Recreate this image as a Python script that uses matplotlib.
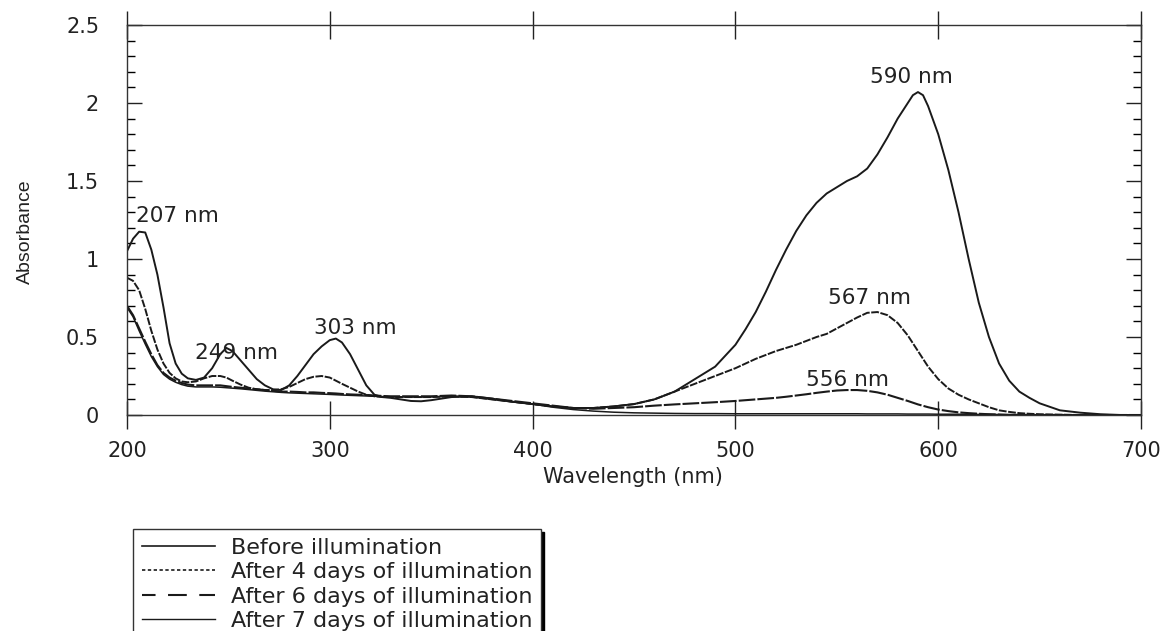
import matplotlib
matplotlib.use("Agg")
import matplotlib.pyplot as plt
from matplotlib.lines import Line2D
from matplotlib.ticker import MultipleLocator, FuncFormatter

plt.rcParams['font.family'] = ['DejaVu Sans']

wavelength = [200, 203, 206, 209, 212, 215, 218, 221, 224, 227, 230, 234, 238, 242, 246, 249,
              252, 256, 260, 264, 268, 272, 276, 280, 284, 288, 292, 296, 300, 303, 306, 310,
              314, 318, 322, 326, 330, 335, 340, 345, 350, 360, 370, 380, 390, 400, 410, 420,
              430, 440, 450, 460, 470, 480, 490, 500, 505, 510, 515, 520, 525, 530, 535, 540,
              545, 550, 555, 560, 565, 570, 575, 580, 585, 587.5, 590, 592.5, 595, 600, 605, 610,
              615, 620, 625, 630, 635, 640, 645, 650, 660, 670, 680, 690, 700]

before = [1.05, 1.13, 1.175, 1.17, 1.06, 0.90, 0.69, 0.46, 0.33, 0.265, 0.235, 0.225, 0.24, 0.30, 0.39, 0.43,
          0.41, 0.35, 0.29, 0.23, 0.19, 0.165, 0.16, 0.19, 0.25, 0.32, 0.39, 0.44, 0.48, 0.49, 0.465, 0.39,
          0.29, 0.19, 0.13, 0.115, 0.11, 0.10, 0.09, 0.088, 0.095, 0.115, 0.12, 0.105, 0.085, 0.07, 0.055, 0.045,
          0.045, 0.055, 0.07, 0.10, 0.15, 0.23, 0.31, 0.45, 0.55, 0.66, 0.79, 0.93, 1.06, 1.18, 1.28, 1.36,
          1.42, 1.46, 1.50, 1.53, 1.58, 1.67, 1.78, 1.90, 2.00, 2.05, 2.07, 2.05, 1.98, 1.80, 1.57, 1.30,
          1.00, 0.72, 0.50, 0.33, 0.22, 0.15, 0.11, 0.075, 0.03, 0.015, 0.005, 0.0, 0.0]

days4 = [0.88, 0.86, 0.80, 0.68, 0.54, 0.42, 0.33, 0.27, 0.235, 0.215, 0.21, 0.215, 0.235, 0.25, 0.25, 0.24,
         0.22, 0.195, 0.175, 0.165, 0.16, 0.16, 0.165, 0.18, 0.205, 0.23, 0.245, 0.25, 0.24, 0.22, 0.20, 0.175,
         0.15, 0.13, 0.12, 0.115, 0.115, 0.115, 0.115, 0.115, 0.115, 0.12, 0.115, 0.10, 0.085, 0.07, 0.055, 0.045,
         0.045, 0.055, 0.07, 0.10, 0.15, 0.20, 0.25, 0.30, 0.33, 0.36, 0.385, 0.41, 0.43, 0.45, 0.475, 0.50,
         0.52, 0.555, 0.59, 0.625, 0.655, 0.66, 0.64, 0.59, 0.51, 0.46, 0.41, 0.36, 0.31, 0.23, 0.17, 0.13,
         0.10, 0.075, 0.05, 0.03, 0.02, 0.012, 0.008, 0.005, 0.002, 0.0, 0.0, 0.0, 0.0]

days6 = [0.70, 0.64, 0.555, 0.47, 0.39, 0.32, 0.27, 0.24, 0.22, 0.205, 0.195, 0.19, 0.19, 0.19, 0.19, 0.185,
         0.18, 0.175, 0.17, 0.165, 0.16, 0.155, 0.15, 0.15, 0.148, 0.145, 0.145, 0.142, 0.14, 0.138, 0.135, 0.132,
         0.13, 0.128, 0.125, 0.122, 0.12, 0.12, 0.12, 0.12, 0.12, 0.125, 0.12, 0.105, 0.09, 0.075, 0.06, 0.045,
         0.04, 0.045, 0.05, 0.06, 0.068, 0.075, 0.082, 0.09, 0.095, 0.10, 0.105, 0.11, 0.117, 0.125, 0.133, 0.142,
         0.15, 0.157, 0.16, 0.16, 0.155, 0.145, 0.13, 0.11, 0.09, 0.079, 0.068, 0.059, 0.05, 0.035, 0.025, 0.017,
         0.012, 0.008, 0.005, 0.003, 0.0, 0.0, 0.0, 0.0, 0.0, 0.0, 0.0, 0.0, 0.0]

days7 = [0.69, 0.63, 0.54, 0.455, 0.375, 0.31, 0.26, 0.23, 0.21, 0.195, 0.185, 0.18, 0.18, 0.18, 0.178, 0.175,
         0.172, 0.168, 0.163, 0.158, 0.153, 0.149, 0.145, 0.142, 0.14, 0.138, 0.136, 0.134, 0.132, 0.13, 0.128, 0.126,
         0.124, 0.122, 0.12, 0.118, 0.117, 0.116, 0.115, 0.115, 0.116, 0.12, 0.115, 0.10, 0.085, 0.07, 0.05, 0.035,
         0.025, 0.018, 0.014, 0.012, 0.01, 0.009, 0.009, 0.008, 0.008, 0.008, 0.008, 0.008, 0.008, 0.008, 0.008, 0.008,
         0.008, 0.008, 0.008, 0.008, 0.007, 0.007, 0.007, 0.007, 0.006, 0.006, 0.006, 0.006, 0.006, 0.005, 0.005, 0.005,
         0.004, 0.004, 0.004, 0.003, 0.003, 0.003, 0.002, 0.002, 0.002, 0.001, 0.001, 0.0, 0.0]

labels = ["Before illumination", "After 4 days of illumination",
          "After 6 days of illumination", "After 7 days of illumination"]

peak_text = ["207 nm", "249 nm", "303 nm", "590 nm", "567 nm", "556 nm"]
peak_x = [225, 254, 312.5, 587, 566, 555.5]
peak_y = [1.276, 0.397, 0.558, 2.167, 0.75, 0.224]

x_ticks = [200, 300, 400, 500, 600, 700]
y_ticks = [0, 0.5, 1, 1.5, 2, 2.5]

fig = plt.figure(figsize=(11.66, 6.31), dpi=100)
ax = fig.add_axes([0.1089, 0.3423, 0.8697, 0.6181])

lc = '#1a1a1a'
ax.plot(wavelength, before, color=lc, lw=1.4, ls='-')
ax.plot(wavelength, days4, color=lc, lw=1.4, ls=(0, (4, 0.8)))
ax.plot(wavelength, days6, color=lc, lw=1.5, ls=(0, (8, 1)))
ax.plot(wavelength, days7, color=lc, lw=1.1, ls='-')

fs = 15
for t, x, y in zip(peak_text, peak_x, peak_y):
    ax.text(x, y, t, ha='center', va='center', fontsize=15.5, color='#222222')

ax.set_xlim(200, 700)
ax.set_ylim(0, 2.5)
ax.set_xticks(x_ticks)
ax.set_yticks(y_ticks)
ax.yaxis.set_minor_locator(MultipleLocator(0.1))
ax.yaxis.set_major_formatter(FuncFormatter(lambda v, p: f"{v:g}"))

ax.tick_params(axis='x', which='major', direction='inout', length=20, width=1,
               top=True, bottom=True, labelsize=fs, pad=9, colors='#222222')
ax.tick_params(axis='y', which='major', direction='in', length=11, width=1,
               left=True, right=True, labelsize=fs, pad=20, colors='#222222')
ax.tick_params(axis='y', which='minor', direction='in', length=6, width=1,
               left=True, right=True)

for s in ax.spines.values():
    s.set_color('#333333')
    s.set_linewidth(1.0)

ax.set_xlabel("Wavelength (nm)", fontsize=fs, color='#222222')
ax.xaxis.set_label_coords(0.499, -0.134)
ax.set_ylabel("Absorbance", fontsize=14, color='#222222', family='Liberation Sans')
ax.yaxis.set_label_coords(-0.092, 0.47)

handles = [Line2D([], [], color=lc, lw=1.2, ls='-'),
           Line2D([], [], color=lc, lw=1.2, ls=(0, (2, 1.5))),
           Line2D([], [], color=lc, lw=1.5, ls=(2.5, (9, 6))),
           Line2D([], [], color=lc, lw=1.0, ls='-')]
leg = fig.legend(handles, labels, loc='upper left', bbox_to_anchor=(0.114, 0.162),
                 fontsize=16, frameon=True, fancybox=False, shadow={'color': 'black', 'alpha': 1},
                 handlelength=3.3, handletextpad=0.7, labelspacing=0.2, borderpad=0.4,
                 borderaxespad=0)
leg.get_frame().set_edgecolor('#333333')
leg.get_frame().set_linewidth(1.0)
for txt in leg.get_texts():
    txt.set_color('#222222')

fig.savefig("out.png", dpi=100)
